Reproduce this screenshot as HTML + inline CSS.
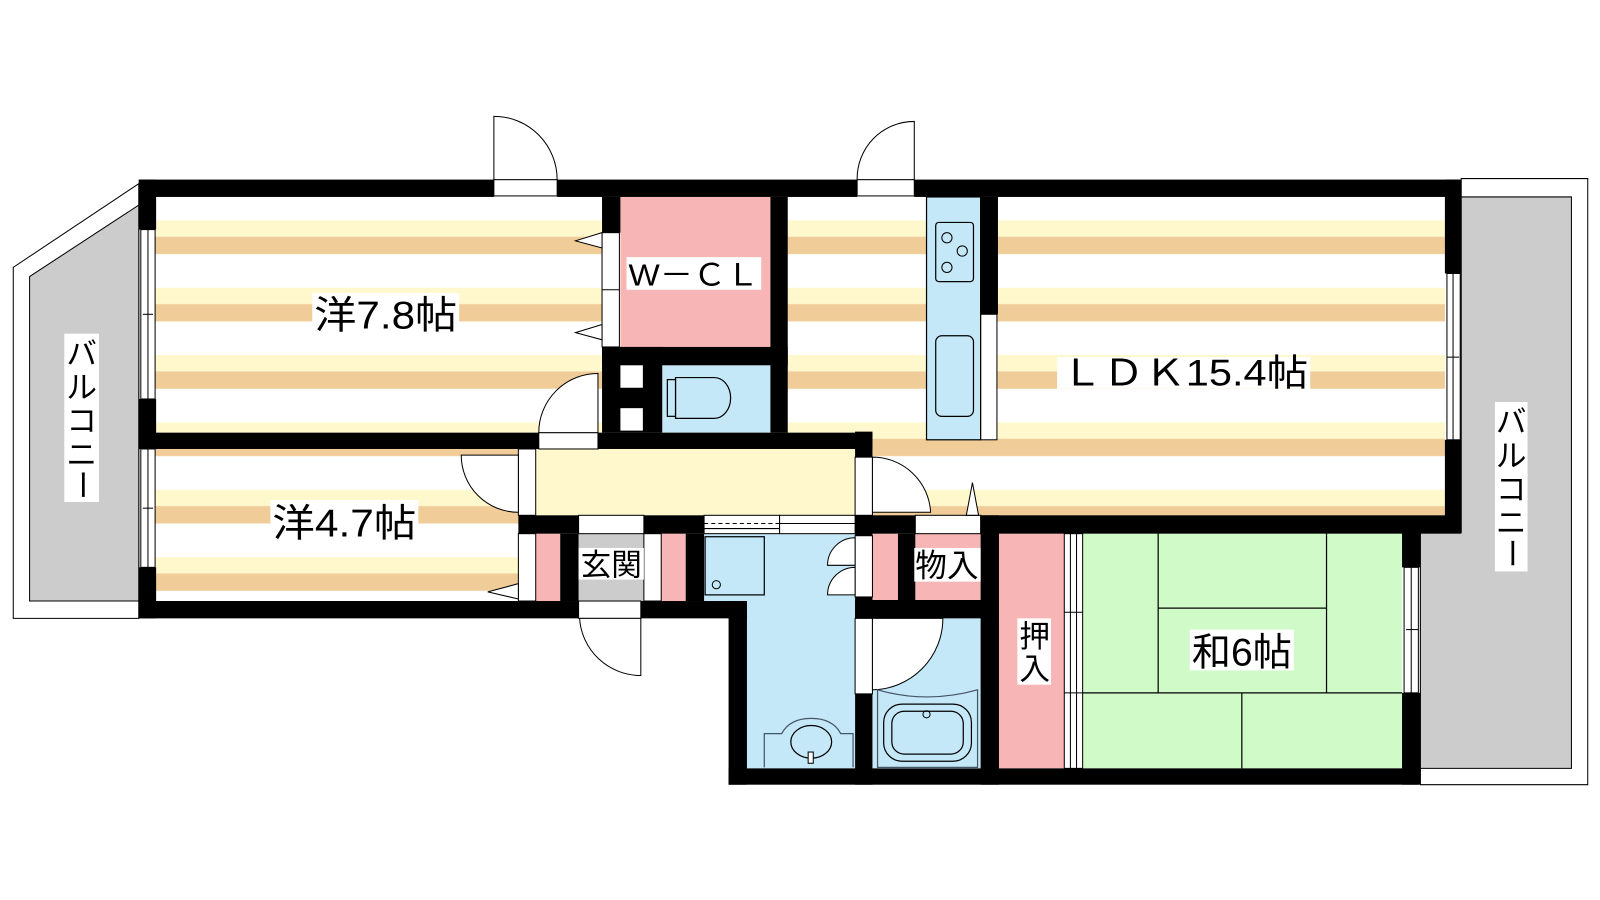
<!DOCTYPE html>
<html><head><meta charset="utf-8"><style>
html,body{margin:0;padding:0;background:#fff;}
svg{display:block;}
text{font-family:"Liberation Sans","Noto Sans CJK JP",sans-serif;fill:#000;}
</style></head><body>
<svg width="1600" height="900" viewBox="0 0 1568 882" preserveAspectRatio="none" xmlns="http://www.w3.org/2000/svg">
<defs>
<pattern id="fl" patternUnits="userSpaceOnUse" x="0" y="216" width="10" height="66">
<rect x="0" y="0" width="10" height="66" fill="#fff"/>
<rect x="0" y="0" width="10" height="16" fill="#fef8cc"/>
<rect x="0" y="16" width="10" height="17" fill="#f0cc98"/>
</pattern>
</defs>
<rect width="1568" height="882" fill="#fff"/>

<polygon points="136,180 13,262 13,606 136,606" fill="#fff" stroke="#000" stroke-width="1"/>
<polygon points="136,201 29,271 29,589 136,589" fill="#ccc" stroke="#000" stroke-width="1"/>
<polygon points="1432,175 1556,175 1556,769 1392,769 1392,522 1432,522" fill="#fff" stroke="#000" stroke-width="1"/>
<polygon points="1432,193 1540,193 1540,753 1392,753 1392,522 1432,522" fill="#ccc" stroke="#000" stroke-width="1"/>

<rect x="152" y="193" width="438" height="231" fill="url(#fl)"/>
<rect x="152" y="440" width="358" height="149" fill="url(#fl)"/>
<rect x="772" y="193" width="644" height="312" fill="url(#fl)"/>
<rect x="838" y="423" width="124" height="82" fill="url(#fl)"/>
<rect x="525" y="440" width="313" height="65" fill="#fef8cc"/>
<rect x="608" y="193" width="147" height="147" fill="#f8b5b5"/>
<rect x="649" y="358" width="106" height="66" fill="#c5e8f8"/>
<rect x="525" y="523" width="24" height="66" fill="#f8b5b5"/>
<rect x="567" y="523" width="64" height="66" fill="#ccc"/>
<rect x="648" y="523" width="24" height="66" fill="#f8b5b5"/>
<rect x="690" y="523" width="148" height="66" fill="#c5e8f8"/>
<rect x="732" y="588" width="106" height="165" fill="#c5e8f8"/>
<rect x="855" y="523" width="25" height="66" fill="#f8b5b5"/>
<rect x="897" y="523" width="64" height="66" fill="#f8b5b5"/>
<rect x="855" y="606" width="106" height="147" fill="#c5e8f8"/>
<rect x="979" y="523" width="64" height="230" fill="#f8b5b5"/>
<rect x="1061" y="523" width="313" height="230" fill="#d0fac8"/>

<g stroke="#000" stroke-width="1.2" fill="none">
<line x1="1135" y1="523" x2="1135" y2="679"/>
<line x1="1300" y1="523" x2="1300" y2="679"/>
<line x1="1135" y1="596" x2="1300" y2="596"/>
<line x1="1061" y1="679" x2="1374" y2="679"/>
<line x1="1217" y1="679" x2="1217" y2="753"/>
</g>

<g fill="#000">
<rect x="136" y="176" width="348" height="17"/>
<rect x="546" y="176" width="294" height="17"/>
<rect x="896" y="176" width="536" height="17"/>
<rect x="136" y="176" width="17" height="49"/>
<rect x="136" y="391" width="17" height="49"/>
<rect x="136" y="556" width="17" height="50"/>
<rect x="136" y="424" width="392" height="16"/>
<rect x="586" y="424" width="269" height="16"/>
<rect x="136" y="589" width="431" height="17"/>
<rect x="628" y="589" width="104" height="17"/>
<rect x="590" y="193" width="18" height="35"/>
<rect x="590" y="340" width="59" height="84"/>
<rect x="590" y="340" width="182" height="18"/>
<rect x="755" y="193" width="17" height="231"/>
<rect x="961" y="193" width="17" height="115"/>
<rect x="1416" y="176" width="16" height="92"/>
<rect x="1416" y="431" width="16" height="91"/>
<rect x="508" y="505" width="59" height="18"/>
<rect x="631" y="505" width="59" height="18"/>
<rect x="549" y="523" width="18" height="66"/>
<rect x="672" y="523" width="18" height="66"/>
<rect x="838" y="423" width="17" height="25"/>
<rect x="838" y="505" width="17" height="20"/>
<rect x="838" y="585" width="17" height="21"/>
<rect x="838" y="680" width="17" height="89"/>
<rect x="855" y="505" width="42" height="18"/>
<rect x="961" y="505" width="471" height="18"/>
<rect x="880" y="523" width="17" height="66"/>
<rect x="838" y="588" width="141" height="18"/>
<rect x="961" y="505" width="18" height="264"/>
<rect x="714" y="589" width="18" height="180"/>
<rect x="714" y="753" width="676" height="16"/>
<rect x="1374" y="522" width="18" height="34"/>
<rect x="1374" y="679" width="18" height="90"/>
<rect x="838" y="505" width="17" height="18"/>
</g>
<rect x="608" y="358" width="22" height="22" fill="#fff"/>
<rect x="608" y="400" width="22" height="22" fill="#fff"/>

<g fill="#fff" stroke="#000" stroke-width="1">
<rect x="138" y="225" width="14" height="166"/>
<rect x="138" y="440" width="14" height="116"/>
<rect x="1418" y="268" width="13" height="163"/>
<rect x="1376" y="556" width="14" height="123"/>
<rect x="590" y="228" width="17" height="112"/>
<rect x="961" y="308" width="16" height="123"/>
<rect x="484" y="176" width="62" height="16"/>
<rect x="840" y="176" width="56" height="16"/>
<rect x="528" y="424" width="58" height="16"/>
<rect x="508" y="440" width="17" height="65"/>
<rect x="508" y="523" width="17" height="66"/>
<rect x="631" y="523" width="17" height="66"/>
<rect x="567" y="505" width="64" height="18"/>
<rect x="567" y="589" width="61" height="17"/>
<rect x="838" y="448" width="17" height="57"/>
<rect x="838" y="525" width="17" height="60"/>
<rect x="838" y="606" width="17" height="74"/>
<rect x="897" y="505" width="64" height="18"/>
<rect x="690" y="505" width="74" height="18"/>
<rect x="764" y="505" width="74" height="18"/>
<rect x="1043" y="523" width="18" height="230"/>
</g>
<g stroke="#000" stroke-width="1" fill="none">
<line x1="145" y1="225" x2="145" y2="391"/><line x1="140" y1="308" x2="150" y2="308"/>
<line x1="145" y1="440" x2="145" y2="556"/><line x1="140" y1="498" x2="150" y2="498"/>
<line x1="1424" y1="268" x2="1424" y2="431"/><line x1="1418" y1="350" x2="1430" y2="350"/>
<line x1="1383" y1="556" x2="1383" y2="679"/><line x1="1378" y1="617" x2="1390" y2="617"/>
<line x1="590" y1="284" x2="607" y2="284"/>
<line x1="1049" y1="523" x2="1049" y2="753"/><line x1="1055" y1="523" x2="1055" y2="753"/>
<line x1="1043" y1="600" x2="1061" y2="600"/><line x1="1043" y1="679" x2="1061" y2="679"/>
<line x1="690" y1="513" x2="764" y2="513" stroke-dasharray="4,3"/>
<line x1="690" y1="518" x2="764" y2="518"/>
<line x1="764" y1="513" x2="838" y2="513"/>
</g>

<g fill="#fff" stroke="#000" stroke-width="1">
<path d="M484,176 L484,114 A62,62 0 0 1 546,176 Z"/>
<path d="M896,176 L896,119 A56,56 0 0 0 840,176 Z"/>
<path d="M586,424 L586,366 A58,58 0 0 0 528,424 Z"/>
<path d="M508,446 L452,446 A56,56 0 0 0 508,502 Z"/>
<path d="M855,448 L855,502 L912,502 A57,57 0 0 0 855,448 Z"/>
<path d="M628,606 L628,662 A60,60 0 0 1 568,606 Z"/>
<path d="M855,606 L924,606 A70,70 0 0 1 855,676 Z"/>
<path d="M838,527 A27,27 0 0 0 811,554 L838,554 Z"/>
<path d="M838,556 A27,27 0 0 0 811,583 L838,583 Z"/>
<polygon points="590,228 564,236 590,243"/>
<polygon points="590,318 564,326 590,333"/>
<polygon points="508,572 478,580 508,587"/>
<polygon points="953,473 947,505 959,505"/>
</g>

<g stroke="#000" stroke-width="1.2" fill="#c5e8f8">
<rect x="908" y="193" width="53" height="238"/>
<rect x="917" y="218" width="37" height="58" rx="3"/>
<rect x="917" y="329" width="37" height="79" rx="6"/>
<rect x="691" y="526" width="58" height="57"/>
<path d="M662,370 L700,370 A16,20 0 0 1 700,410 L662,410 Z"/>
<rect x="654" y="372" width="8" height="36"/>
<path d="M860,676 Q908,690 958,676 L958,752 L860,752 Z" stroke="#456"/>
<rect x="866" y="690" width="86" height="56" rx="18"/>
<rect x="874" y="697" width="70" height="42" rx="12"/>
<path d="M749,752 L749,719 L766,719 Q774,704 795,704 Q816,704 824,719 L836,719 L836,752" stroke="#456"/>
<ellipse cx="795" cy="727" rx="20" ry="16"/>
</g>
<g stroke="#000" stroke-width="1" fill="none">
<circle cx="928" cy="233" r="5"/><circle cx="943" cy="246" r="5"/><circle cx="928" cy="262" r="5"/>
<circle cx="702" cy="573" r="4"/><circle cx="908" cy="700" r="3.5"/>
<rect x="792" y="737" width="5" height="11" fill="#fff"/>
</g>

<g fill="#fff">
<rect x="306" y="287" width="144" height="39"/>
<rect x="265" y="490" width="145" height="40"/>
<rect x="614" y="252" width="132" height="32"/>
<rect x="1036" y="350" width="248" height="31"/>
<rect x="567" y="537" width="64" height="31"/>
<rect x="896" y="537" width="65" height="33"/>
<rect x="997" y="606" width="33" height="65"/>
<rect x="1166" y="617" width="102" height="40"/>
<rect x="63" y="327" width="34" height="165"/>
<rect x="1465" y="394" width="32" height="166"/>
</g>
<text x="308" y="322" font-size="38" textLength="140" lengthAdjust="spacingAndGlyphs">洋7.8帖</text>
<text x="267" y="526" font-size="38" textLength="141" lengthAdjust="spacingAndGlyphs">洋4.7帖</text>
<text x="616" y="280" font-size="30" textLength="128" lengthAdjust="spacingAndGlyphs">W－ＣＬ</text>
<text x="1040" y="378" font-size="36" textLength="242" lengthAdjust="spacingAndGlyphs">ＬＤＫ15.4帖</text>
<text x="569" y="564" font-size="30" textLength="60" lengthAdjust="spacingAndGlyphs">玄関</text>
<text x="897" y="565" font-size="31" textLength="62" lengthAdjust="spacingAndGlyphs">物入</text>
<text x="999" y="634" font-size="30">押</text>
<text x="999" y="666" font-size="30">入</text>
<text x="1168" y="652" font-size="38" textLength="98" lengthAdjust="spacingAndGlyphs">和6帖</text>
<g font-size="30">
<text x="65" y="357">バ</text><text x="65" y="390">ル</text><text x="65" y="423">コ</text><text x="65" y="456">ニ</text>
<text x="1466" y="424">バ</text><text x="1466" y="457">ル</text><text x="1466" y="490">コ</text><text x="1466" y="523">ニ</text>
<text transform="translate(80,475) rotate(90)" text-anchor="middle" dominant-baseline="central">ー</text>
<text transform="translate(1481,542) rotate(90)" text-anchor="middle" dominant-baseline="central">ー</text>
</g>
</svg>
</body></html>
